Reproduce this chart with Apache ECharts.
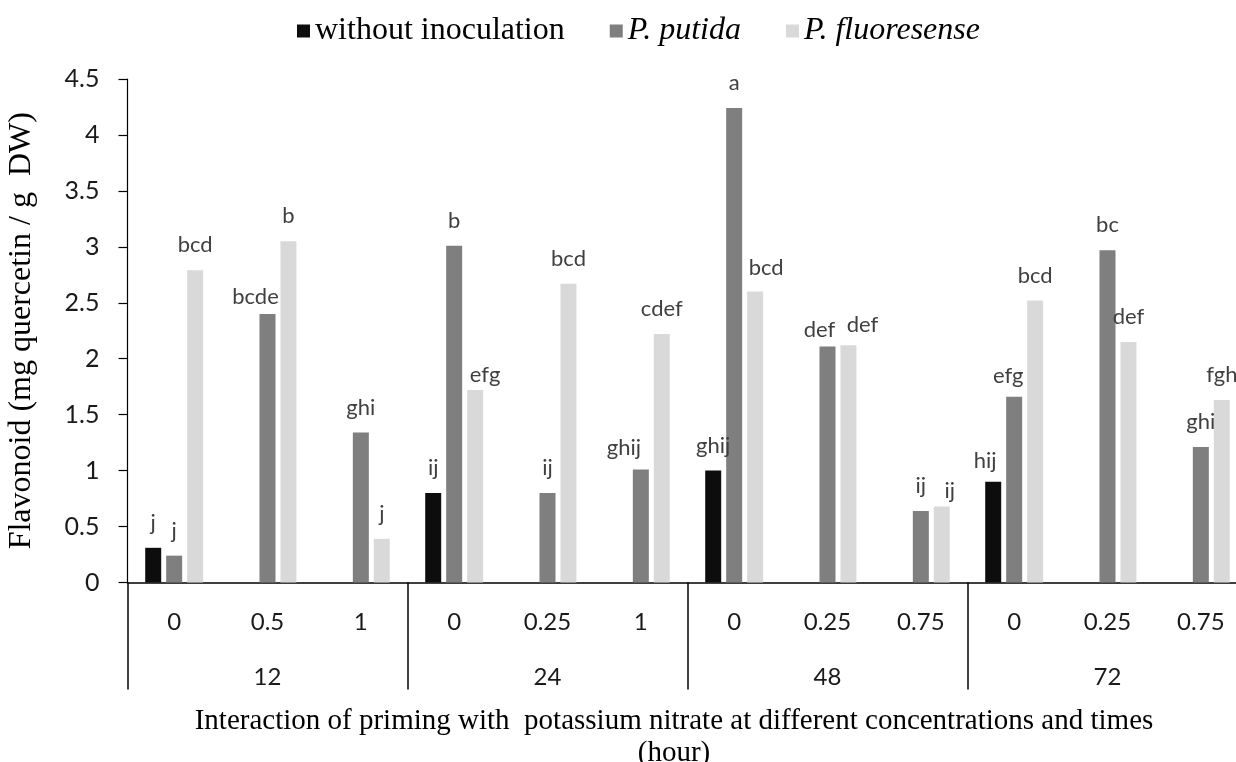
<!DOCTYPE html>
<html>
<head>
<meta charset="utf-8">
<script src="https://cdn.jsdelivr.net/npm/echarts@6/dist/echarts.min.js"></script>
<style>
html,body{margin:0;padding:0;background:#fff;overflow:hidden;}
#chart{width:1236px;height:762px;}
</style>
</head>
<body>
<div id="chart"></div>
<script>
const concentrations = ['0','0.5','1','0','0.25','1','0','0.25','0.75','0','0.25','0.75'];
const times = ['12','24','48','72'];
const seriesNames = ['without inoculation','P. putida','P. fluoresense'];
const withoutInoculation = [0.31, null, null, 0.80, null, null, 1.00, null, null, 0.90, null, null];
const pPutida = [0.24, 2.40, 1.34, 3.01, 0.80, 1.01, 4.24, 2.11, 0.64, 1.66, 2.97, 1.21];
const pFluoresense = [2.79, 3.05, 0.39, 1.72, 2.67, 2.22, 2.60, 2.12, 0.68, 2.52, 2.15, 1.63];
const lettersWithout = ['j','','','ij','','','ghij','','','hij','',''];
const lettersPutida = ['j','bcde','ghi','b','ij','ghij','a','def','ij','efg','bc','ghi'];
const lettersFluor = ['bcd','b','j','efg','bcd','cdef','bcd','def','ij','bcd','def','fgh'];
const yTicks = {min:0, max:4.5, interval:0.5};

// label nudges (dx, dy) for manually placed letters
const nudges = {
  '1-1':[-12,8], '2-3':[10,10], '1-5':[-17,3], '2-6':[11,1],
  '1-7':[-8,8], '2-7':[14,5], '2-8':[8,9], '0-9':[-8,4], '1-9':[-6,4]
};

const colors = ['#0d0d0d','#7f7f7f','#d9d9d9'];
const valueSets = [withoutInoculation, pPutida, pFluoresense];
const letterSets = [lettersWithout, lettersPutida, lettersFluor];

function buildData(si){
  return valueSets[si].map((v,i)=>{
    const item = {value: v == null ? '-' : v};
    const n = nudges[si+'-'+i];
    if(n){ item.label = {offset:n}; }
    return item;
  });
}

const chart = echarts.init(document.getElementById('chart'));
chart.setOption({
  animation:false,
  backgroundColor:'#ffffff',
  legend:{
    left:292, top:10,
    icon:'rect', itemWidth:13, itemHeight:13, itemGap:45,
    data:seriesNames,
    formatter:function(name){ return name.indexOf('P.')===0 ? '{i|'+name+'}' : name; },
    textStyle:{fontFamily:'Liberation Serif', fontSize:32, color:'#000',
      rich:{i:{fontFamily:'Liberation Serif', fontSize:32, fontStyle:'italic', color:'#000'}}}
  },
  title:{
    text:'Interaction of priming with  potassium nitrate at different concentrations and times\n(hour)',
    left:669, top:700, textAlign:'center',
    textStyle:{fontFamily:'Liberation Serif', fontSize:29, fontWeight:'normal', color:'#000', lineHeight:32}
  },
  grid:{left:127.5, top:79, width:1120, height:503.5, outerBoundsMode:'none', containLabel:false},
  xAxis:[
    {type:'category', data:concentrations, position:'bottom',
     axisLine:{show:true, lineStyle:{color:'#000', width:1.5}},
     axisTick:{show:false},
     axisLabel:{margin:28, fontFamily:'Lato', fontSize:24, color:'#1a1a1a'}},
    {type:'category', data:times, position:'bottom', offset:0,
     axisLine:{show:false},
     axisTick:{show:true, length:107, interval:0, lineStyle:{color:'#000', width:1.5}},
     axisLabel:{margin:83, fontFamily:'Lato', fontSize:24, color:'#1a1a1a'}}
  ],
  yAxis:{
    type:'value', min:yTicks.min, max:yTicks.max, interval:yTicks.interval,
    name:'Flavonoid (mg quercetin / g  DW)', nameLocation:'middle', nameGap:90,
    nameTextStyle:{fontFamily:'Liberation Serif', fontSize:32, color:'#000'},
    axisLine:{show:true, lineStyle:{color:'#000', width:1.2}},
    axisTick:{show:true, length:9, lineStyle:{color:'#000', width:1.2}},
    splitLine:{show:false},
    axisLabel:{margin:28, fontFamily:'Lato', fontSize:25, color:'#1a1a1a',
      formatter:function(v){ return String(v); }}
  },
  series:[0,1,2].map(si=>({
    name:seriesNames[si], type:'bar', xAxisIndex:0,
    barWidth:16, barGap:'31%',
    itemStyle:{color:colors[si]},
    label:{show:true, position:'top', distance:14,
      fontFamily:'Lato', fontSize:22, color:'#404040',
      formatter:function(p){ return letterSets[si][p.dataIndex]; }},
    data:buildData(si)
  }))
});
</script>
</body>
</html>
